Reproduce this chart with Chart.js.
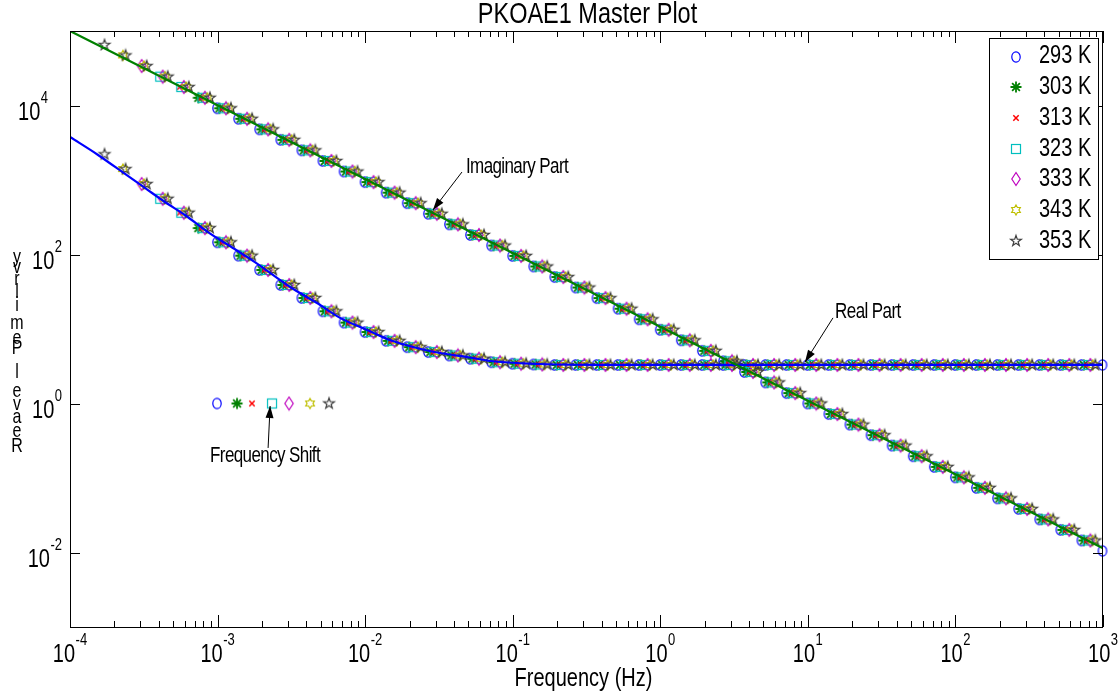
<!DOCTYPE html>
<html lang="en">
<head>
<meta charset="UTF-8">
<script src="https://cdn.jsdelivr.net/npm/chart.js@4"></script>
<style>
  html, body { margin: 0; padding: 0; background: #fff; }
</style>
</head>
<body>
<canvas id="myChart" width="1119" height="692"></canvas>
<script>
// ---- data ----
const temperatures = ['293 K', '303 K', '313 K', '323 K', '333 K', '343 K', '353 K'];
const tempColors = ['#0000ff', '#008000', '#ff0000', '#00bfbf', '#bf00bf', '#bfbf00', '#404040'];

// measurement frequencies (Hz) of the reference grid, 7 points per decade
const groupFreq = [
  1.523e-4, 2.116e-4, 2.942e-4, 4.087e-4, 5.679e-4, 7.891e-4,
  1.096e-3, 1.523e-3, 2.116e-3, 2.942e-3, 4.087e-3, 5.679e-3, 7.891e-3,
  1.096e-2, 1.523e-2, 2.116e-2, 2.942e-2, 4.087e-2, 5.679e-2, 7.891e-2,
  0.1096, 0.1523, 0.2116, 0.2942, 0.4087, 0.5679, 0.7891,
  1.096, 1.523, 2.116, 2.942, 4.087, 5.679, 7.891,
  10.96, 15.23, 21.16, 29.42, 40.87, 56.79, 78.91,
  109.6, 152.3, 211.6, 294.2, 408.7, 567.9, 789.1,
  1096
];
const imagVals = [
  65000, 47000, 33900, 24400, 17700, 12700,
  9180, 6630, 4790, 3460, 2500, 1800, 1300,
  937, 676, 489, 352, 254, 183, 132,
  95.8, 69.1, 49.8, 36.0, 26.0, 18.7, 13.5,
  9.77, 7.05, 5.09, 3.68, 2.65, 1.92, 1.38,
  1.00, 0.722, 0.521, 0.376, 0.272, 0.196, 0.141,
  0.102, 0.0738, 0.0533, 0.0385, 0.0278, 0.0201, 0.0145,
  0.0105
];
const realVals = [
  2215, 1400, 883, 560, 364, 226,
  146, 96.5, 62.0, 39.0, 26.1, 17.3, 12.2,
  9.1, 6.93, 5.71, 4.91, 4.41, 3.99, 3.58,
  3.42, 3.34, 3.29, 3.29, 3.29, 3.29, 3.29,
  3.29, 3.29, 3.29, 3.29, 3.29, 3.29, 3.29,
  3.29, 3.29, 3.29, 3.29, 3.29, 3.29, 3.29,
  3.29, 3.29, 3.29, 3.29, 3.29, 3.29, 3.29,
  3.29
];
// horizontal shift factor of each temperature and the grid points it covers
const shiftFactor = [0.905, 0.94, 0.975, 1.0, 1.04, 1.08, 1.125];
const firstIndex = [6, 5, 4, 3, 2, 1, 0];
const lastIndex = [48, 47, 47, 47, 47, 47, 47];
// "Frequency Shift" sample markers at value 1
const shiftMarkFreq = [9.91e-4, 1.355e-3, 1.71e-3, 2.34e-3, 3.05e-3, 4.23e-3, 5.69e-3];
const shiftMarkVal = 1;

// fitted curves
const imagFitFreq = [1e-4, 1e-3, 1e-2, 1e-1, 1, 10, 100, 1000];
const imagFitVals = [1.0e5, 1.01e4, 1028, 105, 10.7, 1.09, 0.112, 0.0114];
const realFitFreq = [1e-4, 1.549e-4, 2.36e-4, 3.22e-4, 4.40e-4, 6.01e-4, 8.61e-4, 1.18e-3, 1.79e-3,
  3.10e-3, 4.72e-3, 6.76e-3, 1.03e-2, 1.47e-2, 2.24e-2, 3.21e-2, 5.38e-2, 7.01e-2, 0.153, 0.533, 1000];
const realFitVals = [3776, 2167, 1205, 782, 507, 339, 200, 134, 79.2,
  36.6, 22.3, 14.1, 9.70, 7.11, 5.56, 4.76, 4.08, 3.72, 3.39, 3.29, 3.29];

// axes
const xTickExps = [-4, -3, -2, -1, 0, 1, 2, 3];
const yTickExps = [-2, 0, 2, 4];
const yLabelRight = [62, 62, 62, 48];

// annotations, anchored in data coordinates
const notes = [
  { text: 'Imaginary Part', tx: 0.0482, ty: 1493, from: [0.0453, 1279], to: [0.0288, 396] },
  { text: 'Real Part', tx: 15.3, ty: 16.9, from: [14.8, 14.1], to: [9.57, 3.60] },
  { text: 'Frequency Shift', tx: 8.89e-4, ty: 0.197, from: [2.20e-3, 0.253], to: [2.27e-3, 0.925] }
];

const SY = 1.26; // vertical stretch of the original figure's text
const FONT = '"Liberation Sans", Arial, sans-serif';

// ---- marker glyphs ----
function makeMarker(draw) {
  const c = document.createElement('canvas');
  c.width = 16; c.height = 16;
  const g = c.getContext('2d');
  g.lineWidth = 1.2;
  draw(g, 8, 8);
  return c;
}
function starPath(g, cx, cy, n, ro, ri) {
  g.beginPath();
  for (let i = 0; i < 2 * n; i++) {
    const r = i % 2 ? ri : ro;
    const a = -Math.PI / 2 + i * Math.PI / n;
    const px = cx + r * Math.cos(a), py = cy + r * Math.sin(a);
    i ? g.lineTo(px, py) : g.moveTo(px, py);
  }
  g.closePath();
}
const markers = [
  makeMarker((g, cx, cy) => { g.strokeStyle = tempColors[0]; g.beginPath(); g.ellipse(cx, cy, 4.2, 5.2, 0, 0, 2 * Math.PI); g.stroke(); }),
  makeMarker((g, cx, cy) => {
    g.strokeStyle = tempColors[1]; g.lineWidth = 1.8; g.beginPath();
    for (let i = 0; i < 4; i++) { const a = i * Math.PI / 4; g.moveTo(cx - 5.5 * Math.cos(a), cy - 5.5 * Math.sin(a)); g.lineTo(cx + 5.5 * Math.cos(a), cy + 5.5 * Math.sin(a)); }
    g.stroke();
  }),
  makeMarker((g, cx, cy) => { g.strokeStyle = tempColors[2]; g.lineWidth = 1.5; g.beginPath(); g.moveTo(cx - 2.7, cy - 2.7); g.lineTo(cx + 2.7, cy + 2.7); g.moveTo(cx + 2.7, cy - 2.7); g.lineTo(cx - 2.7, cy + 2.7); g.stroke(); }),
  makeMarker((g, cx, cy) => { g.strokeStyle = tempColors[3]; g.strokeRect(cx - 4.5, cy - 4.5, 9, 9); }),
  makeMarker((g, cx, cy) => { g.strokeStyle = tempColors[4]; g.beginPath(); g.moveTo(cx, cy - 6.5); g.lineTo(cx + 4.2, cy); g.lineTo(cx, cy + 6.5); g.lineTo(cx - 4.2, cy); g.closePath(); g.stroke(); }),
  makeMarker((g, cx, cy) => { g.strokeStyle = tempColors[5]; starPath(g, cx, cy, 6, 5, 2.9); g.stroke(); }),
  makeMarker((g, cx, cy) => { g.strokeStyle = tempColors[6]; starPath(g, cx, cy, 5, 5.6, 2.2); g.stroke(); })
];

// ---- datasets ----
const datasets = [
  {
    label: 'Imaginary fit', showLine: true, borderColor: '#008000', borderWidth: 2.2,
    pointRadius: 0, order: 0,
    data: imagFitFreq.map((f, i) => ({ x: f, y: imagFitVals[i] }))
  },
  {
    label: 'Real fit', showLine: true, borderColor: '#0000ff', borderWidth: 2.2,
    pointRadius: 0, order: 1, cubicInterpolationMode: 'monotone',
    data: realFitFreq.map((f, i) => ({ x: f, y: realFitVals[i] }))
  }
];
temperatures.forEach((t, k) => {
  const pts = [];
  for (let i = firstIndex[k]; i <= lastIndex[k]; i++) {
    pts.push({ x: groupFreq[i] * shiftFactor[k], y: imagVals[i] });
    pts.push({ x: groupFreq[i] * shiftFactor[k], y: realVals[i] });
  }
  pts.push({ x: shiftMarkFreq[k], y: shiftMarkVal });
  datasets.push({
    label: t, data: pts, showLine: false, pointStyle: markers[k],
    pointRadius: 5, borderColor: tempColors[k], order: 8 - k, clip: false
  });
});

// ---- text helpers ----
function drawText(ctx, str, x, y, size, align, baseline, spacing) {
  ctx.save();
  ctx.translate(x, y);
  ctx.scale(1, SY);
  ctx.font = size + 'px ' + FONT;
  ctx.textAlign = align || 'left';
  ctx.textBaseline = baseline || 'alphabetic';
  if (spacing) ctx.letterSpacing = spacing + 'px';
  ctx.fillStyle = '#000';
  ctx.fillText(str, 0, 0);
  ctx.restore();
}
function textWidth(ctx, str, size) {
  ctx.save();
  ctx.font = size + 'px ' + FONT;
  const w = ctx.measureText(str).width;
  ctx.restore();
  return w;
}
function drawPow(ctx, exp, left, baseY) {
  const wb = textWidth(ctx, '10', 20);
  drawText(ctx, '10', left, baseY, 20);
  drawText(ctx, String(exp), left + wb + 0.5, baseY - 17, 13);
}
function powWidth(ctx, exp) {
  return textWidth(ctx, '10', 20) + 0.5 + textWidth(ctx, String(exp), 13);
}
function line(ctx, x1, y1, x2, y2) {
  ctx.beginPath(); ctx.moveTo(x1, y1); ctx.lineTo(x2, y2); ctx.stroke();
}
function arrow(ctx, x1, y1, x2, y2) {
  ctx.lineWidth = 1;
  line(ctx, x1, y1, x2, y2);
  const a = Math.atan2(y2 - y1, x2 - x1), L = 12, W = 4;
  ctx.beginPath();
  ctx.moveTo(x2, y2);
  ctx.lineTo(x2 - L * Math.cos(a) + W * Math.sin(a), y2 - L * Math.sin(a) - W * Math.cos(a));
  ctx.lineTo(x2 - L * Math.cos(a) - W * Math.sin(a), y2 - L * Math.sin(a) + W * Math.cos(a));
  ctx.closePath();
  ctx.fill();
}

// ---- MATLAB style frame, labels, legend and notes ----
const matlabFrame = {
  id: 'matlabFrame',
  afterDraw(chart) {
    const { ctx, chartArea: a } = chart;
    const x = chart.scales.x, y = chart.scales.y;
    ctx.save();
    ctx.strokeStyle = '#000';
    ctx.fillStyle = '#000';
    ctx.lineWidth = 1;
    ctx.strokeRect(a.left + 0.5, a.top + 0.5, a.right - a.left - 1, a.bottom - a.top);

    // x ticks, top and bottom, with minor ticks
    xTickExps.forEach(e => {
      for (let m = 1; m <= 9; m++) {
        if (e === 3 && m > 1) break;
        const px = Math.round(x.getPixelForValue(m * Math.pow(10, e))) + 0.5;
        const len = m === 1 ? 12 : 6;
        line(ctx, px, a.bottom, px, a.bottom - len);
        line(ctx, px, a.top, px, a.top + len);
      }
      const px = x.getPixelForValue(Math.pow(10, e));
      drawPow(ctx, e, px - powWidth(ctx, e) / 2, 662);
    });
    // y ticks, left and right
    yTickExps.forEach((e, i) => {
      const py = Math.round(y.getPixelForValue(Math.pow(10, e))) + 0.5;
      line(ctx, a.left, py, a.left + 10, py);
      line(ctx, a.right, py, a.right - 10, py);
      drawPow(ctx, e, yLabelRight[i] - powWidth(ctx, e), py + 13);
    });

    // titles
    const cx = (a.left + a.right) / 2;
    drawText(ctx, 'PKOAE1 Master Plot', cx + 1, 23, 23.5, 'center');
    drawText(ctx, 'Frequency (Hz)', cx - 3, 686, 20, 'center');
    const yLab = [['y', 257], ['v', 267], ['r', 279], ['l', 292], ['i', 305], ['m', 323], ['e', 338], ['P', 348],
      ['l', 372], ['e', 391], ['v', 404], ['a', 417], ['e', 431], ['R', 446]];
    yLab.forEach(([ch, yy]) => drawText(ctx, ch, 17, yy, 16, 'center', 'middle'));

    // legend
    const lx = a.right - 114, ly = a.top + 7, lw = 109, lh = 221;
    ctx.fillStyle = '#fff';
    ctx.fillRect(lx, ly, lw, lh);
    ctx.strokeRect(lx + 0.5, ly + 0.5, lw, lh);
    temperatures.forEach((t, k) => {
      const ry = ly + 18.5 + k * 30.7;
      ctx.drawImage(markers[k], lx + 27 - 8, Math.round(ry) - 8);
      drawText(ctx, t, lx + 50, ry, 20, 'left', 'middle');
    });

    // annotations
    ctx.fillStyle = '#000';
    notes.forEach(n => {
      drawText(ctx, n.text, x.getPixelForValue(n.tx), y.getPixelForValue(n.ty), 17, 'left', 'middle', -0.6);
      arrow(ctx, x.getPixelForValue(n.from[0]), y.getPixelForValue(n.from[1]),
        x.getPixelForValue(n.to[0]), y.getPixelForValue(n.to[1]));
    });
    ctx.restore();
  }
};

new Chart(document.getElementById('myChart').getContext('2d'), {
  type: 'scatter',
  data: { datasets: datasets },
  options: {
    responsive: false,
    animation: false,
    devicePixelRatio: 1,
    layout: { padding: { left: 70, right: 16, top: 31, bottom: 65 } },
    scales: {
      x: { type: 'logarithmic', min: 1e-4, max: 1e3, display: false },
      y: { type: 'logarithmic', min: 1e-3, max: 1e5, display: false }
    },
    plugins: { legend: { display: false }, tooltip: { enabled: false } }
  },
  plugins: [matlabFrame]
});
</script>
</body>
</html>
